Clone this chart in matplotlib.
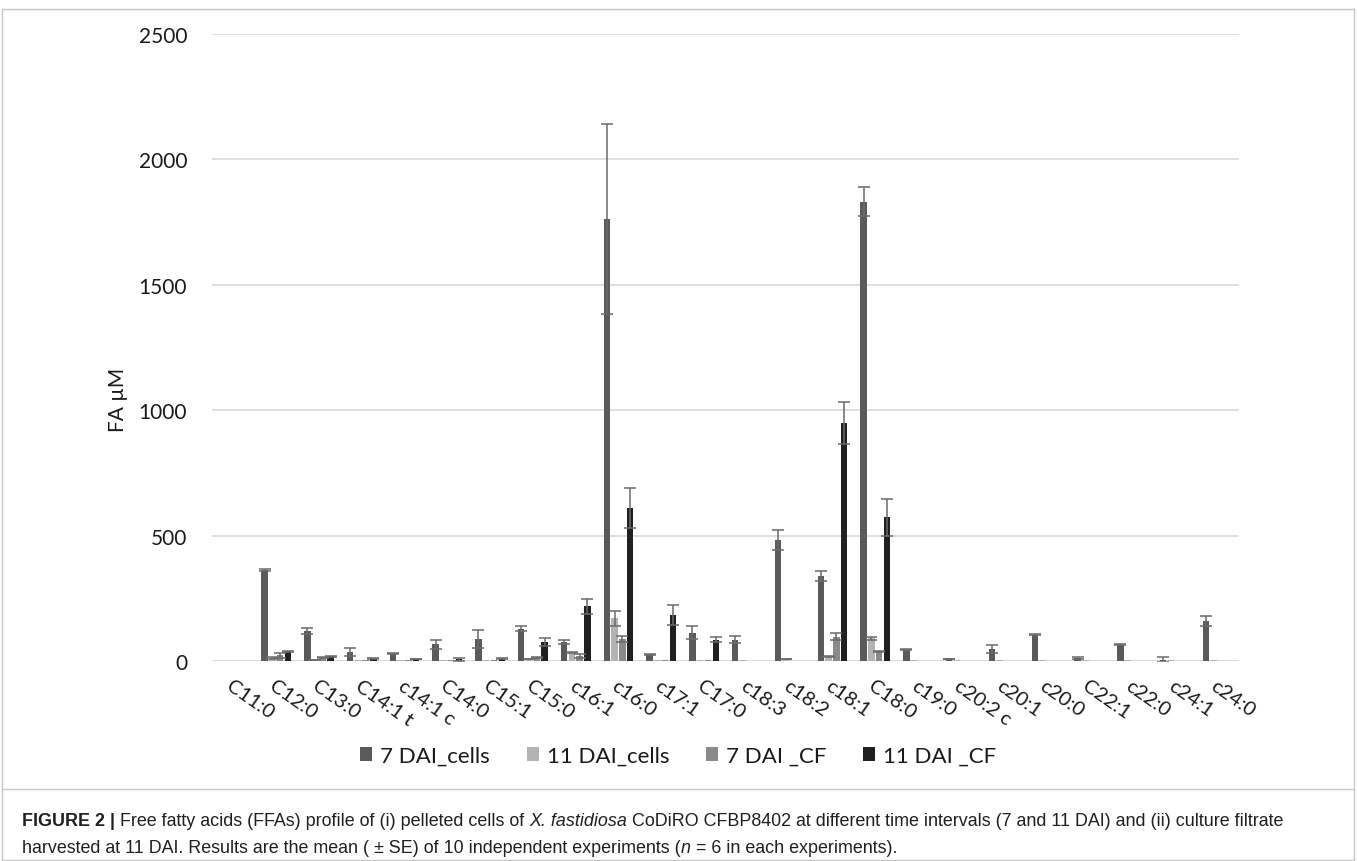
import numpy as np
import matplotlib
matplotlib.use("Agg")
import matplotlib.pyplot as plt
from matplotlib.patches import Patch
from matplotlib.lines import Line2D

nan = np.nan

# Fatty acid categories (axis labels)
categories = ["C11:0", "C12:0", "C13:0", "C14:1 t", "c14:1 c", "C14:0", "C15:1",
              "C15:0", "c16:1", "c16:0", "c17:1", "C17:0", "c18:3", "c18:2",
              "c18:1", "C18:0", "c19:0", "c20:2 c", "c20:1", "c20:0", "C22:1",
              "c22:0", "c24:1", "c24:0"]

series_names = ["7 DAI_cells", "11 DAI_cells", "7 DAI _CF", "11 DAI _CF"]

# Mean FA concentration (µM) per series
dai7_cells = [nan, 363, 118, 37, 31, 67, 88, 128, 77, 1762, 25, 112, 85, 482,
              338, 1831, 45, 8, 48, 104, 12, 64, 5, 160]
dai11_cells = [nan, 13, 4, 2, 2, 2, 2, 8, 32, 170, 2, 2, 2, 8,
               17, 90, 4, 4, 3, 4, 3, 3, 3, 3]
dai7_cf = [nan, 22, 12, 2, 2, 2, 2, 12, 19, 88, 2, 2, nan, nan,
           97, 39, nan, nan, nan, nan, nan, nan, nan, nan]
dai11_cf = [nan, 38, 18, 8, 8, 6, 8, 75, 218, 610, 183, 85, nan, nan,
            948, 573, nan, nan, nan, nan, nan, nan, nan, nan]

# Standard errors
dai7_cells_se = [nan, 4, 12, 16, 2, 18, 37, 10, 8, 379, 3, 26, 15, 40,
                 20, 58, 3, 1, 17, 2, 3, 2, 9, 20]
dai11_cells_se = [nan, 4, 1, 0, 0, 0, 0, 1, 2, 31, 0, 0, 0, 1,
                  1, 7, 0, 0, 0, 0, 0, 0, 0, 0]
dai7_cf_se = [nan, 11, 2, 0, 0, 0, 0, 2, 8, 13, 0, 0, nan, nan,
              13, 2, nan, nan, nan, nan, nan, nan, nan, nan]
dai11_cf_se = [nan, 2, 2, 2, 1, 7, 2, 15, 29, 80, 40, 9, nan, nan,
               83, 73, nan, nan, nan, nan, nan, nan, nan, nan]

y_ticks = [0, 500, 1000, 1500, 2000, 2500]

values = [dai7_cells, dai11_cells, dai7_cf, dai11_cf]
errors = [dai7_cells_se, dai11_cells_se, dai7_cf_se, dai11_cf_se]
colors = ["#5a5a5a", "#b3b3b3", "#8a8a8a", "#202020"]

FONT = ["Lato", "DejaVu Sans"]
plt.rcParams["font.family"] = FONT

W, H = 1357, 862
fig = plt.figure(figsize=(W / 100, H / 100), dpi=100)

ax_left, ax_right, ax_top, ax_bottom = 212, 1239, 35, 662
ax = fig.add_axes([ax_left / W, 1 - ax_bottom / H,
                   (ax_right - ax_left) / W, (ax_bottom - ax_top) / H])

x = np.arange(len(categories))
n = len(values)
step = 0.182
bw = 0.15
for k, (vals, errs, col) in enumerate(zip(values, errors, colors)):
    v = np.array(vals, dtype=float)
    e = np.array(errs, dtype=float)
    pos = x + (k - (n - 1) / 2) * step
    ax.bar(pos, v, width=bw, color=col, zorder=3, linewidth=0)
    mask = ~np.isnan(v) & (np.nan_to_num(e) > 0)
    ax.errorbar(pos[mask], v[mask], yerr=e[mask], fmt="none",
                ecolor="#6a6a6a", elinewidth=1.1, capsize=4.2,
                capthick=1.1, zorder=4)

ax.set_xlim(-0.5, len(categories) - 0.5)
ax.set_ylim(0, 2500)
ax.set_yticks(y_ticks)
ax.set_yticklabels([str(t) for t in y_ticks])
ax.yaxis.grid(True, color="#d9d9d9", linewidth=1.2, zorder=0)
ax.set_axisbelow(True)
for s in ax.spines.values():
    s.set_visible(False)
ax.axhline(0, color="#d9d9d9", linewidth=1.2, zorder=2)

ax.set_xticks(x)
ax.set_xticklabels(categories, rotation=-35, ha="left", va="top",
                   rotation_mode="anchor")
ax.tick_params(axis="x", length=0, pad=11, labelsize=14.5, colors="#1a1a1a")
ax.tick_params(axis="y", length=0, pad=18, labelsize=15, colors="#1a1a1a")

fig.text(118 / W, 1 - 400 / H, "FA µM", rotation=90, ha="center",
         va="center", fontsize=15, color="#1a1a1a")

handles = [Patch(facecolor=c, edgecolor="none") for c in colors]
fig.legend(handles, series_names, loc="center", ncol=4,
           bbox_to_anchor=(678 / W, 1 - 757 / H), frameon=False,
           fontsize=16, handlelength=0.55, handleheight=0.55,
           handletextpad=0.35, columnspacing=1.65, labelcolor="#1a1a1a")

# frame around figure and caption
frame_col = "#c8c8c8"
for (x0, y0, x1, y1) in [(2, 10, 2, 861), (1354, 10, 1354, 861),
                         (2, 10, 1354, 10), (2, 790, 1354, 790),
                         (2, 861, 1354, 861)]:
    fig.add_artist(Line2D([x0 / W, x1 / W], [1 - y0 / H, 1 - y1 / H],
                          color=frame_col, linewidth=1.0))

# caption with mixed styles
renderer = fig.canvas.get_renderer()
CAP_FONT = ["Liberation Sans Narrow", "Liberation Sans", "DejaVu Sans"]


def rich_line(x_px, y_px, parts, size=12.9):
    cur = x_px
    for text, weight, style in parts:
        t = fig.text(cur / W, 1 - y_px / H, text, fontsize=size,
                     fontweight=weight, fontstyle=style, family=CAP_FONT,
                     color="#231f20", ha="left", va="baseline")
        bb = t.get_window_extent(renderer=renderer)
        cur += bb.width


rich_line(22, 826, [
    ("FIGURE 2 |", "bold", "normal"),
    (" Free fatty acids (FFAs) profile of (i) pelleted cells of ", "normal", "normal"),
    ("X. fastidiosa", "normal", "italic"),
    (" CoDiRO CFBP8402 at different time intervals (7 and 11 DAI) and (ii) culture filtrate",
     "normal", "normal"),
])
rich_line(22, 853, [
    ("harvested at 11 DAI. Results are the mean ( ± SE) of 10 independent experiments (",
     "normal", "normal"),
    ("n", "normal", "italic"),
    (" = 6 in each experiments).", "normal", "normal"),
])

fig.savefig("out.png", dpi=100)
